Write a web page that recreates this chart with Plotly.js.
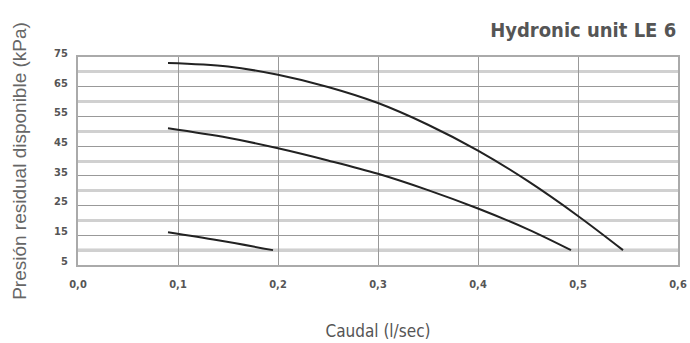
<!DOCTYPE html>
<html>
<head>
<meta charset="utf-8">
<script src="https://cdn.plot.ly/plotly-3.0.1.min.js"></script>
<style>html,body{margin:0;padding:0;background:#fff;}#chart{width:690px;height:343px;}</style>
</head>
<body>
<div id="chart"></div>
<script>
const curveHighX = [0.09, 0.15, 0.2, 0.25, 0.3, 0.35, 0.4, 0.45, 0.5, 0.545];
const curveHighY = [73, 71.8, 69, 64.9, 59.5, 52.2, 43.5, 33.2, 21.5, 10];
const curveMidX = [0.09, 0.15, 0.2, 0.25, 0.3, 0.35, 0.4, 0.45, 0.493];
const curveMidY = [51, 47.8, 44.3, 40.2, 35.7, 30.2, 24, 17, 10];
const curveLowX = [0.09, 0.14, 0.195];
const curveLowY = [16, 13.3, 10];
const xTickVals = [0, 0.1, 0.2, 0.3, 0.4, 0.5, 0.6];
const xTickText = ['0,0', '0,1', '0,2', '0,3', '0,4', '0,5', '0,6'];
const yTickVals = [5, 15, 25, 35, 45, 55, 65, 75];
const yMinorVals = [10, 20, 30, 40, 50, 60, 70];
const yStrongVals = [10, 20];

const lineStyle = {color: '#222', width: 2, shape: 'spline', smoothing: 1};
const traces = [
  {x: curveHighX, y: curveHighY, mode: 'lines', line: lineStyle, hoverinfo: 'skip'},
  {x: curveMidX, y: curveMidY, mode: 'lines', line: lineStyle, hoverinfo: 'skip'},
  {x: curveLowX, y: curveLowY, mode: 'lines', line: lineStyle, hoverinfo: 'skip'}
];

const shapes = yStrongVals.map(v => ({
  type: 'line', xref: 'paper', x0: 0, x1: 1, yref: 'y', y0: v, y1: v,
  line: {color: '#999', width: 3}, layer: 'below'
}));

const narrow = '"Liberation Sans Narrow", "Arial Narrow", "DejaVu Sans Condensed", sans-serif';

const layout = {
  width: 690, height: 343,
  margin: {l: 78, r: 12, t: 57, b: 78},
  paper_bgcolor: '#fff', plot_bgcolor: '#fff',
  showlegend: false,
  title: {
    text: '<b>Hydronic unit LE 6</b>',
    font: {family: narrow, size: 20, color: '#555'},
    x: 0.997, xanchor: 'right', xref: 'paper', y: 0.912, yanchor: 'middle'
  },
  xaxis: {
    range: [0, 0.6], tickvals: xTickVals, ticktext: xTickText,
    showgrid: true, gridcolor: '#999', gridwidth: 1,
    showline: true, mirror: true, linecolor: '#aaa', linewidth: 2,
    zeroline: false, ticks: '', ticklabelstandoff: 8,
    tickfont: {family: narrow, size: 11, color: '#555', weight: 'bold'},
    title: {text: 'Caudal (l/sec)', font: {family: narrow, size: 17, color: '#555'}, standoff: 35}
  },
  yaxis: {
    range: [5, 75], tickvals: yTickVals,
    showgrid: true, gridcolor: '#999', gridwidth: 1,
    minor: {tickvals: yMinorVals, showgrid: true, gridcolor: '#d0d0d0', gridwidth: 3, ticks: ''},
    showline: true, mirror: true, linecolor: '#aaa', linewidth: 2,
    zeroline: false, ticks: '', ticklabelshift: -4, ticklabelstandoff: 6,
    tickfont: {family: narrow, size: 11, color: '#555', weight: 'bold'},
    title: {text: 'Presión residual disponible (kPa)', font: {family: 'Liberation Sans, Arial, sans-serif', size: 19, color: '#666'}, standoff: 22}
  },
  shapes: shapes
};

Plotly.newPlot('chart', traces, layout, {staticPlot: true, displayModeBar: false});
</script>
</body>
</html>
